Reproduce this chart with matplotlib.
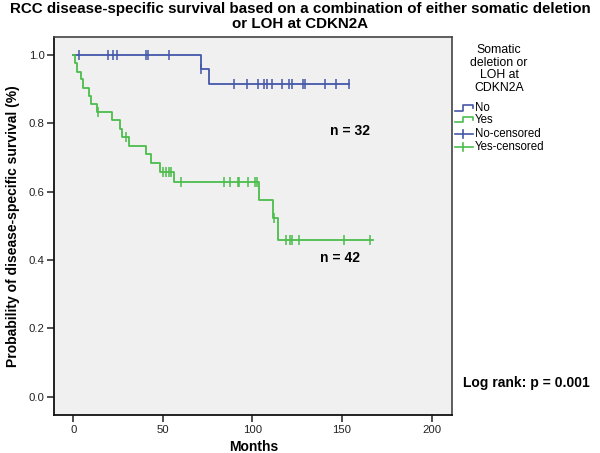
import matplotlib
matplotlib.use('Agg')
import matplotlib.pyplot as plt
from matplotlib.lines import Line2D

plt.rcParams['font.family'] = ['Liberation Sans', 'DejaVu Sans']

# ---------------- data ----------------
blue_times = [0, 71.3, 75.5, 154.0]
blue_surv = [1.0, 0.958, 0.916, 0.916]
blue_cens_t = [3.3, 19.5, 22.0, 24.2, 40.6, 41.9, 53.4, 71.5,
               89.7, 97.1, 103.2, 106.6, 107.9, 110.7, 116.3, 120.5, 122.2,
               128.3, 129.3, 140.5, 146.5, 154.0]
blue_cens_s = [1.0] * 7 + [0.958] + [0.916] * 14

green_times = [0, 1.0, 1.9, 4.3, 5.6, 8.8, 9.9, 13.4, 21.8, 26.1, 27.3, 31.1,
               40.6, 43.2, 48.4, 56.4, 103.6, 111.2, 114.4, 167.0]
green_surv = [1.0, 0.976, 0.952, 0.929, 0.905, 0.881, 0.857, 0.833, 0.809,
              0.784, 0.760, 0.735, 0.709, 0.684, 0.659, 0.629, 0.577, 0.524,
              0.460, 0.460]
green_cens_t = [14.0, 29.2, 50.2, 51.7, 53.2, 54.5, 60.1, 84.1, 87.4, 91.7,
                92.5, 97.3, 101.4, 102.3, 112.0, 118.5, 120.9, 122.2, 126.1,
                151.2, 165.6]
green_cens_s = [0.833, 0.760, 0.659, 0.659, 0.659, 0.659, 0.629, 0.629, 0.629,
                0.629, 0.629, 0.629, 0.629, 0.629, 0.524, 0.460, 0.460, 0.460,
                0.460, 0.460, 0.460]

x_ticks = [0, 50, 100, 150, 200]
y_ticks = [0.0, 0.2, 0.4, 0.6, 0.8, 1.0]
y_tick_labels = ['0.0', '0.2', '0.4', '0.6', '0.8', '1.0']

title = 'RCC disease-specific survival based on a combination of either somatic deletion\nor LOH at CDKN2A'
legend_title = 'Somatic\ndeletion or\nLOH at\nCDKN2A'
legend_labels = ['No', 'Yes', 'No-censored', 'Yes-censored']

BLUE = '#4458a8'
GREEN = '#4cbd4c'

# ---------------- figure ----------------
W, H = 600, 453
fig = plt.figure(figsize=(6, 4.53), dpi=100)


def fx(px):
    return px / W


def fy(py):
    return 1 - py / H


ax = fig.add_axes([fx(54.3), fy(415), fx(452.3) - fx(54.3), fy(36.7) - fy(415)])
ax.set_facecolor('#f0f0f0')
ax.set_xlim(-10.6, 211.5)
ax.set_ylim(-0.054, 1.054)

ax.plot(blue_times, blue_surv, drawstyle='steps-post', color=BLUE, lw=1.3)
ax.plot(green_times, green_surv, drawstyle='steps-post', color=GREEN, lw=1.3)
ax.plot(blue_cens_t, blue_cens_s, ls='none', marker='|', ms=6.5, mew=1.1, color=BLUE)
ax.plot(green_cens_t, green_cens_s, ls='none', marker='|', ms=6.5, mew=1.1, color=GREEN)

ax.set_xticks(x_ticks)
ax.set_xticklabels([str(v) for v in x_ticks])
ax.set_yticks(y_ticks)
ax.set_yticklabels(y_tick_labels)
ax.tick_params(direction='out', length=5, width=1.1, labelsize=8.2, pad=2,
               colors='#222222')

for s in ['left', 'bottom']:
    ax.spines[s].set_color('#111111')
    ax.spines[s].set_linewidth(1.3)
for s in ['top', 'right']:
    ax.spines[s].set_color('#444444')
    ax.spines[s].set_linewidth(1.2)

ax.set_xlabel('Months', fontsize=10, fontweight='bold', labelpad=4)
ax.set_ylabel('Probability of disease-specific survival (%)', fontsize=10,
              fontweight='bold', labelpad=6)

ax.text(154.4, 0.777, 'n = 32', fontsize=10, fontweight='bold', ha='center', va='center')
ax.text(148.8, 0.406, 'n = 42', fontsize=10, fontweight='bold', ha='center', va='center')

fig.text(0.5, fy(16.5), title, fontsize=10.9, fontweight='bold', ha='center',
         va='center', linespacing=1.0)

fig.text(fx(462.7), fy(383), 'Log rank: p = 0.001', fontsize=10,
         fontweight='bold', ha='left', va='center')

# ---------------- legend (drawn manually) ----------------
fig.text(fx(499), fy(69), legend_title, fontsize=8.8, ha='center', va='center',
         linespacing=1.1)

leg_y = [108.3, 120.0, 134.0, 146.7]
leg_cols = [BLUE, GREEN, BLUE, GREEN]
for i, (lab, col, yy) in enumerate(zip(legend_labels, leg_cols, leg_y)):
    if i < 2:
        xs = [455, 463.3, 463.3, 473.3, 473.3]
        ys = [yy + 2.4, yy + 2.4, yy - 3.3, yy - 3.3, yy]
        fig.add_artist(Line2D([fx(v) for v in xs], [fy(v) for v in ys],
                              color=col, lw=1.2))
    else:
        fig.add_artist(Line2D([fx(455), fx(473.3)], [fy(yy), fy(yy)], color=col, lw=1.2))
        fig.add_artist(Line2D([fx(462.7), fx(462.7)], [fy(yy - 4), fy(yy + 4)],
                              color=col, lw=1.2))
    fig.text(fx(475), fy(yy), lab, fontsize=8.3, ha='left', va='center')

fig.savefig('out.png', dpi=100)
